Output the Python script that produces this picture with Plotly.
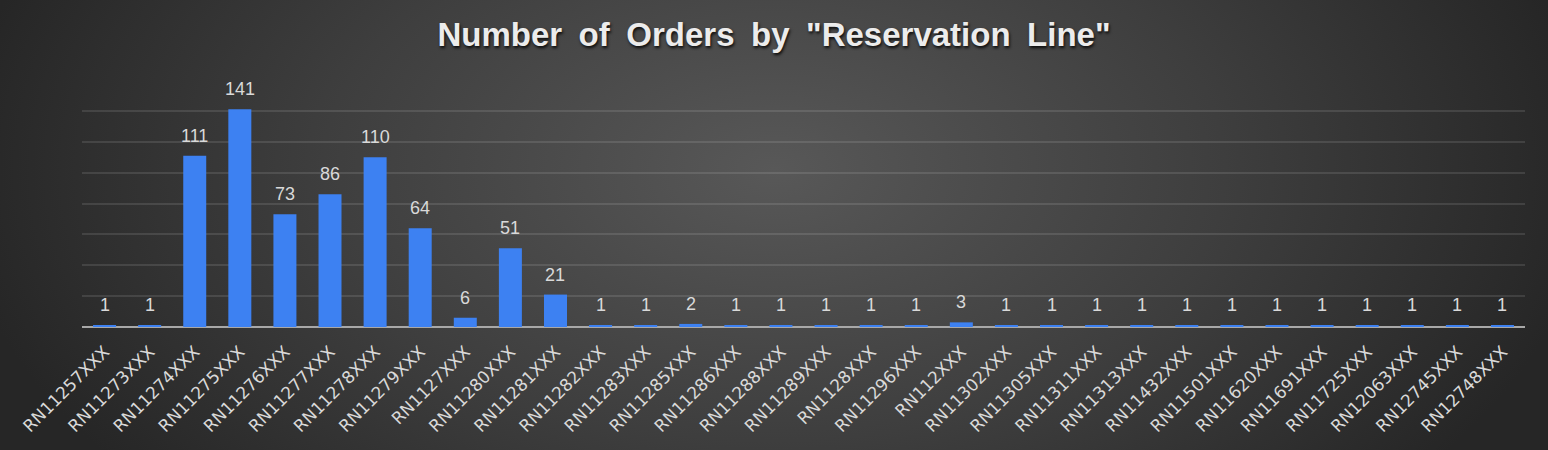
import base64
import plotly.graph_objects as go

categories = ["RN11257XXX", "RN11273XXX", "RN11274XXX", "RN11275XXX", "RN11276XXX",
              "RN11277XXX", "RN11278XXX", "RN11279XXX", "RN1127XXX", "RN11280XXX",
              "RN11281XXX", "RN11282XXX", "RN11283XXX", "RN11285XXX", "RN11286XXX",
              "RN11288XXX", "RN11289XXX", "RN1128XXX", "RN11296XXX", "RN112XXX",
              "RN11302XXX", "RN11305XXX", "RN11311XXX", "RN11313XXX", "RN11432XXX",
              "RN11501XXX", "RN11620XXX", "RN11691XXX", "RN11725XXX", "RN12063XXX",
              "RN12745XXX", "RN12748XXX"]
orders = [1, 1, 111, 141, 73, 86, 110, 64, 6, 51, 21, 1, 1, 2, 1, 1, 1, 1, 1, 3,
          1, 1, 1, 1, 1, 1, 1, 1, 1, 1, 1, 1]

title_text = 'Number of Orders by "Reservation Line"'
# slightly wider word spacing, as in the original title
title_display = title_text.replace(" ", "\u2002")

W, H = 1548, 450
svg = f'''<svg xmlns="http://www.w3.org/2000/svg" width="{W}" height="{H}" viewBox="0 0 {W} {H}" preserveAspectRatio="none">
<defs><radialGradient id="g" cx="774" cy="170" r="820" gradientUnits="userSpaceOnUse"
 gradientTransform="translate(774 170) scale(1 0.6) translate(-774 -170)">
<stop offset="0" stop-color="#585858"/><stop offset="0.55" stop-color="#3e3e3e"/><stop offset="1" stop-color="#262626"/></radialGradient></defs>
<rect width="{W}" height="{H}" fill="url(#g)"/></svg>'''
bg_src = "data:image/svg+xml;base64," + base64.b64encode(svg.encode()).decode()

fig = go.Figure(go.Bar(
    x=categories, y=orders,
    marker=dict(color="#3d81f2", line=dict(width=0)),
    hoverinfo="x+y",
))

# value labels above each bar, placed through the data axes
for c, v in zip(categories, orders):
    fig.add_annotation(x=c, y=v, xref="x", yref="y", text=str(v), showarrow=False,
                       yanchor="bottom", yshift=8,
                       font=dict(family="Liberation Sans, Arial, sans-serif", size=18,
                                 color="#d9d9d9"))

fig.update_layout(
    width=W, height=H,
    margin=dict(l=82, r=23, t=80, b=123),
    paper_bgcolor="#3a3a3a", plot_bgcolor="rgba(0,0,0,0)",
    bargap=0.49,
    showlegend=False,
    title=dict(text=title_display, x=0.5, xanchor="center", y=0.924, yanchor="middle",
               font=dict(family="Liberation Sans, Arial, sans-serif", size=33,
                         color="#ececec", weight="bold",
                         shadow="1px 2px 3px rgba(0,0,0,0.85)")),
    images=[dict(source=bg_src, xref="paper", yref="paper", x=-82/1443, y=1 + 80/247,
                 sizex=W/1443, sizey=H/247, xanchor="left", yanchor="top",
                 sizing="stretch", layer="below")],
    xaxis=dict(tickangle=-45, showgrid=False, ticks="outside", ticklen=7,
               tickcolor="rgba(0,0,0,0)", showline=False,
               tickfont=dict(family="DejaVu Sans, sans-serif", size=17, color="#d9d9d9")),
    yaxis=dict(range=[0, 160], dtick=20, showgrid=True, gridcolor="rgba(255,255,255,0.11)",
               gridwidth=1.5, showticklabels=False, zeroline=True, zerolinecolor="#a8a8a8",
               zerolinewidth=2, ticks=""),
)

fig.write_html("out.html")
